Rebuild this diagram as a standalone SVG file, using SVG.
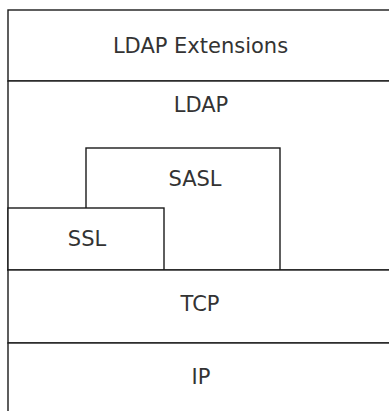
<svg xmlns="http://www.w3.org/2000/svg" width="389" height="411" viewBox="0 0 389 411">
<style>
.box{fill:#fff;stroke:#1a1a1a;stroke-width:1.4}
.lbl{font-family:"DejaVu Sans",Verdana,sans-serif;font-size:21px;fill:#333;text-anchor:middle}
</style>
<rect width="389" height="411" fill="#fff"/>
<g id="ldap-extensions">
<rect class="box" x="8" y="10" width="400" height="71"/>
<text class="lbl" x="200.5" y="53">LDAP Extensions</text>
</g>
<g id="ldap">
<rect class="box" x="8" y="81" width="400" height="189"/>
<text class="lbl" x="201" y="112">LDAP</text>
</g>
<g id="sasl">
<rect class="box" x="86" y="148" width="194" height="122"/>
<text class="lbl" x="195" y="186">SASL</text>
</g>
<g id="ssl">
<rect class="box" x="8" y="208" width="156" height="62"/>
<text class="lbl" x="87" y="246">SSL</text>
</g>
<g id="tcp">
<rect class="box" x="8" y="270" width="400" height="73"/>
<text class="lbl" x="200" y="311">TCP</text>
</g>
<g id="ip">
<rect class="box" x="8" y="343" width="400" height="80"/>
<text class="lbl" x="201" y="384">IP</text>
</g>
<g id="connectors"/>
</svg>
